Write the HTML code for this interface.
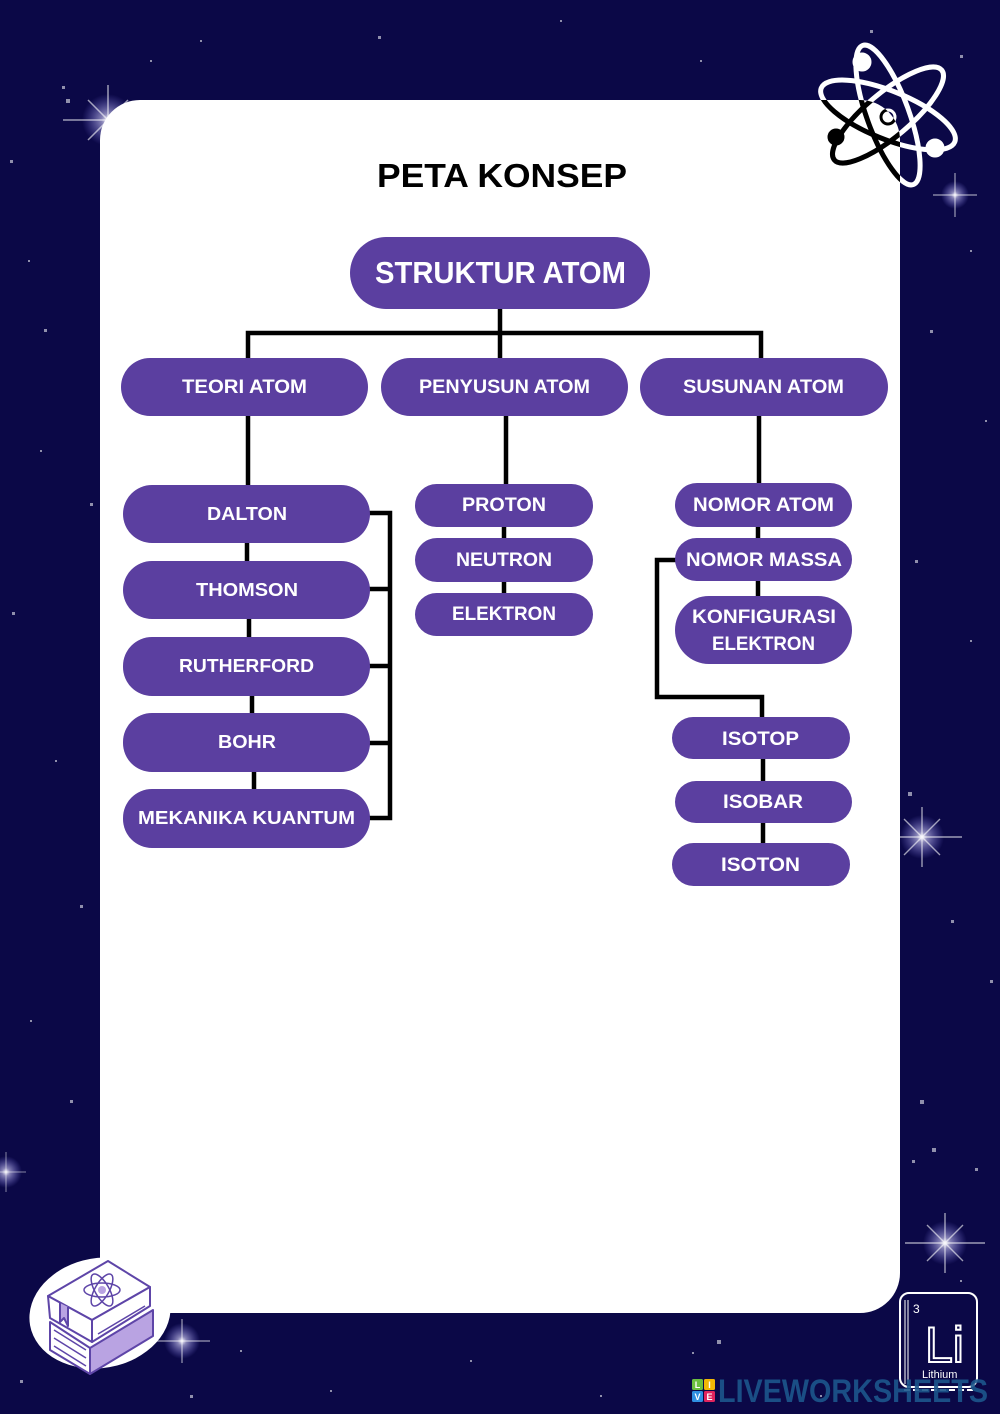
<!DOCTYPE html>
<html><head><meta charset="utf-8"><style>
html,body{margin:0;padding:0;background:#0b0847;}
svg{display:block;}
</style></head><body>
<svg width="1000" height="1414" viewBox="0 0 1000 1414" xmlns="http://www.w3.org/2000/svg">
<defs>
<radialGradient id="glow" cx="50%" cy="50%" r="50%">
<stop offset="0" stop-color="#ffffff" stop-opacity="1"/>
<stop offset="0.25" stop-color="#d8d4ff" stop-opacity="0.6"/>
<stop offset="1" stop-color="#8b86ff" stop-opacity="0"/>
</radialGradient>
<clipPath id="card"><rect x="100" y="100" width="800" height="1213" rx="40"/></clipPath>
</defs>
<rect width="1000" height="1414" fill="#0b0847"/>

<!-- dots -->
<g fill="#ffffff" opacity="0.55">
<rect x="378" y="36" width="3" height="3"/><rect x="66" y="99" width="4" height="4"/><rect x="62" y="86" width="3" height="3"/>
<rect x="44" y="329" width="3" height="3"/><rect x="90" y="503" width="3" height="3"/><rect x="28" y="260" width="2" height="2"/>
<rect x="12" y="612" width="3" height="3"/><rect x="55" y="760" width="2" height="2"/><rect x="80" y="905" width="3" height="3"/>
<rect x="30" y="1020" width="2" height="2"/><rect x="70" y="1100" width="3" height="3"/><rect x="20" y="1380" width="3" height="3"/>
<rect x="190" y="1395" width="3" height="3"/><rect x="240" y="1350" width="2" height="2"/><rect x="330" y="1390" width="2" height="2"/>
<rect x="470" y="1360" width="2" height="2"/><rect x="600" y="1395" width="2" height="2"/><rect x="717" y="1340" width="4" height="4"/>
<rect x="692" y="1352" width="2" height="2"/><rect x="908" y="792" width="4" height="4"/><rect x="951" y="920" width="3" height="3"/>
<rect x="990" y="980" width="3" height="3"/><rect x="920" y="1100" width="4" height="4"/><rect x="932" y="1148" width="4" height="4"/>
<rect x="975" y="1168" width="3" height="3"/><rect x="912" y="1160" width="3" height="3"/><rect x="960" y="55" width="3" height="3"/>
<rect x="970" y="250" width="2" height="2"/><rect x="930" y="330" width="3" height="3"/><rect x="985" y="420" width="2" height="2"/>
<rect x="915" y="560" width="3" height="3"/><rect x="970" y="640" width="2" height="2"/><rect x="200" y="40" width="2" height="2"/>
<rect x="560" y="20" width="2" height="2"/><rect x="700" y="60" width="2" height="2"/><rect x="870" y="30" width="3" height="3"/>
<rect x="150" y="60" width="2" height="2"/><rect x="10" y="160" width="3" height="3"/><rect x="40" y="450" width="2" height="2"/>
<rect x="960" y="1280" width="2" height="2"/><rect x="820" y="1395" width="2" height="2"/>
</g>

<!-- sparkles -->
<g>
<g transform="translate(108,120)"><circle r="26" fill="url(#glow)"/><path d="M-45 0H45M0-35V35M-20-20L20 20M-20 20L20-20" stroke="#fff" stroke-width="1.5" opacity="0.6"/></g>
<g transform="translate(955,195)"><circle r="14" fill="url(#glow)"/><path d="M-22 0H22M0-22V22" stroke="#fff" stroke-width="1.2" opacity="0.6"/></g>
<g transform="translate(922,837)"><circle r="22" fill="url(#glow)"/><path d="M-40 0H40M0-30V30M-18-18L18 18M-18 18L18-18" stroke="#fff" stroke-width="1.4" opacity="0.6"/></g>
<g transform="translate(945,1243)"><circle r="22" fill="url(#glow)"/><path d="M-40 0H40M0-30V30M-18-18L18 18M-18 18L18-18" stroke="#fff" stroke-width="1.4" opacity="0.6"/></g>
<g transform="translate(182,1341)"><circle r="18" fill="url(#glow)"/><path d="M-28 0H28M0-22V22" stroke="#fff" stroke-width="1.2" opacity="0.6"/></g>
<g transform="translate(6,1172)"><circle r="16" fill="url(#glow)"/><path d="M-20 0H20M0-20V20" stroke="#fff" stroke-width="1" opacity="0.5"/></g>
</g>

<!-- card -->
<rect x="100" y="100" width="800" height="1213" rx="40" fill="#ffffff"/>

<!-- title -->
<text x="377" y="187" font-family="Liberation Sans, sans-serif" font-weight="bold" font-size="33" fill="#000" textLength="250" lengthAdjust="spacingAndGlyphs">PETA KONSEP</text>

<!-- connectors -->
<g stroke="#000" stroke-width="4.5" fill="none" stroke-linecap="square">
<path d="M500 309V333M248 358V333H761V358M500 333V358"/>
<path d="M248 416V485M247 543V561M249 619V637M252 696V713M254 772V789"/>
<path d="M370 513H390V818H370M370 589H390M370 666H390M370 743H390"/>
<path d="M506 416V484M504 527V538M504 582V593"/>
<path d="M759 416V483M758 527V538M758 581V596"/>
<path d="M675 560H657V697H762V717M763 759V781M763 823V843"/>
</g>

<!-- nodes -->
<g fill="#5b3fa0">
<rect x="350" y="237" width="300" height="72" rx="36"/>
<rect x="121" y="358" width="247" height="58" rx="29"/>
<rect x="381" y="358" width="247" height="58" rx="29"/>
<rect x="640" y="358" width="248" height="58" rx="29"/>
<rect x="123" y="485" width="247" height="58" rx="29"/>
<rect x="123" y="561" width="247" height="58" rx="29"/>
<rect x="123" y="637" width="247" height="59" rx="29"/>
<rect x="123" y="713" width="247" height="59" rx="29"/>
<rect x="123" y="789" width="247" height="59" rx="29"/>
<rect x="415" y="484" width="178" height="43" rx="21.5"/>
<rect x="415" y="538" width="178" height="44" rx="22"/>
<rect x="415" y="593" width="178" height="43" rx="21.5"/>
<rect x="675" y="483" width="177" height="44" rx="22"/>
<rect x="675" y="538" width="177" height="43" rx="21.5"/>
<rect x="675" y="596" width="177" height="68" rx="34"/>
<rect x="672" y="717" width="178" height="42" rx="21"/>
<rect x="675" y="781" width="177" height="42" rx="21"/>
<rect x="672" y="843" width="178" height="43" rx="21.5"/>
</g>

<g font-family="Liberation Sans, sans-serif" font-weight="bold" fill="#ffffff" lengthAdjust="spacingAndGlyphs">
<text x="375" y="283" font-size="31" textLength="251" lengthAdjust="spacingAndGlyphs">STRUKTUR ATOM</text>
<text x="182" y="393" font-size="19" textLength="125" lengthAdjust="spacingAndGlyphs">TEORI ATOM</text>
<text x="419" y="393" font-size="19" textLength="171" lengthAdjust="spacingAndGlyphs">PENYUSUN ATOM</text>
<text x="683" y="393" font-size="19" textLength="161" lengthAdjust="spacingAndGlyphs">SUSUNAN ATOM</text>
<text x="207" y="520" font-size="18" textLength="80" lengthAdjust="spacingAndGlyphs">DALTON</text>
<text x="196" y="596" font-size="18" textLength="102" lengthAdjust="spacingAndGlyphs">THOMSON</text>
<text x="179" y="672" font-size="18" textLength="135" lengthAdjust="spacingAndGlyphs">RUTHERFORD</text>
<text x="218" y="748" font-size="18" textLength="58" lengthAdjust="spacingAndGlyphs">BOHR</text>
<text x="138" y="824" font-size="18" textLength="217" lengthAdjust="spacingAndGlyphs">MEKANIKA KUANTUM</text>
<text x="462" y="511" font-size="19" textLength="84" lengthAdjust="spacingAndGlyphs">PROTON</text>
<text x="456" y="566" font-size="19" textLength="96" lengthAdjust="spacingAndGlyphs">NEUTRON</text>
<text x="452" y="620" font-size="19" textLength="104" lengthAdjust="spacingAndGlyphs">ELEKTRON</text>
<text x="693" y="511" font-size="19" textLength="141" lengthAdjust="spacingAndGlyphs">NOMOR ATOM</text>
<text x="686" y="566" font-size="19" textLength="156" lengthAdjust="spacingAndGlyphs">NOMOR MASSA</text>
<text x="692" y="623" font-size="19" textLength="144" lengthAdjust="spacingAndGlyphs">KONFIGURASI</text>
<text x="712" y="650" font-size="19" textLength="103" lengthAdjust="spacingAndGlyphs">ELEKTRON</text>
<text x="722" y="745" font-size="19" textLength="77" lengthAdjust="spacingAndGlyphs">ISOTOP</text>
<text x="723" y="808" font-size="19" textLength="80" lengthAdjust="spacingAndGlyphs">ISOBAR</text>
<text x="721" y="871" font-size="19" textLength="79" lengthAdjust="spacingAndGlyphs">ISOTON</text>
</g>

<!-- atom icon top right -->
<g id="atomw" fill="none" stroke="#ffffff" stroke-width="5">
<ellipse cx="888" cy="115" rx="72" ry="24" transform="rotate(22 888 115)"/>
<ellipse cx="888" cy="115" rx="74" ry="21" transform="rotate(70 888 115)"/>
<ellipse cx="888" cy="115" rx="70" ry="22" transform="rotate(-40 888 115)"/>
<circle cx="888" cy="117" r="7" stroke-width="3"/>
<circle cx="862" cy="62" r="7" fill="#fff"/>
<circle cx="935" cy="148" r="7" fill="#fff"/>
<circle cx="836" cy="137" r="6" fill="#fff"/>
</g>
<g clip-path="url(#card)" fill="none" stroke="#000000" stroke-width="5">
<ellipse cx="888" cy="115" rx="72" ry="24" transform="rotate(22 888 115)"/>
<ellipse cx="888" cy="115" rx="74" ry="21" transform="rotate(70 888 115)"/>
<ellipse cx="888" cy="115" rx="70" ry="22" transform="rotate(-40 888 115)"/>
<circle cx="888" cy="117" r="7" stroke-width="3"/>
<circle cx="862" cy="62" r="7" fill="#000"/>
<circle cx="935" cy="148" r="7" fill="#000"/>
<circle cx="836" cy="137" r="6" fill="#000"/>
</g>

<!-- books icon -->
<ellipse cx="100" cy="1313" rx="71" ry="55" transform="rotate(-10 100 1313)" fill="#ffffff"/>
<g stroke="#5e45a8" stroke-width="2" stroke-linejoin="round" fill="#ffffff">
<path d="M90 1348L153 1310V1336L90 1374Z" fill="#b9a3e2"/>
<path d="M50 1322L90 1348V1374L50 1350Z"/>
<path d="M48 1296L108 1261L150 1287L92 1320Z"/>
<path d="M48 1296L92 1320V1342L50 1318Z"/>
<path d="M92 1320L150 1287V1306L92 1342Z"/>
<path d="M60 1303V1322L64 1318L68 1326V1307" fill="#b9a3e2"/>
<path d="M98 1334L145 1306M54 1330L86 1350M54 1338L86 1358M54 1346L86 1366" fill="none" stroke-width="1.5"/>
<ellipse cx="102" cy="1290" rx="18" ry="7" fill="none" stroke-width="1.5"/>
<ellipse cx="102" cy="1290" rx="18" ry="7" transform="rotate(60 102 1290)" fill="none" stroke-width="1.5"/>
<ellipse cx="102" cy="1290" rx="18" ry="7" transform="rotate(-60 102 1290)" fill="none" stroke-width="1.5"/>
<circle cx="102" cy="1290" r="4" fill="#b9a3e2" stroke="none"/>
</g>

<!-- Li element -->
<g stroke="#ffffff" fill="none">
<rect x="900" y="1293" width="77" height="94" rx="9" stroke-width="2"/>
<path d="M905 1300V1384M908 1300V1384" stroke-width="1"/>
<path d="M904 1390H975" stroke-width="2" stroke-dasharray="6 3"/>
</g>
<text x="913" y="1313" font-family="Liberation Sans, sans-serif" font-size="12" fill="#ffffff">3</text>
<text x="925" y="1362" font-family="Liberation Sans, sans-serif" font-size="50" fill="#0b0847" stroke="#ffffff" stroke-width="2">Li</text>
<text x="922" y="1378" font-family="Liberation Sans, sans-serif" font-size="11" fill="#ffffff">Lithium</text>

<!-- watermark -->
<g font-family="Liberation Sans, sans-serif" font-weight="bold" font-size="9" fill="#fff" text-anchor="middle">
<rect x="692" y="1379" width="11" height="11" rx="1.5" fill="#6cbf3f"/><text x="697.5" y="1388">L</text>
<rect x="704" y="1379" width="11" height="11" rx="1.5" fill="#f2b705"/><text x="709.5" y="1388">I</text>
<rect x="692" y="1391" width="11" height="11" rx="1.5" fill="#2f8fe2"/><text x="697.5" y="1400">V</text>
<rect x="704" y="1391" width="11" height="11" rx="1.5" fill="#e2245e"/><text x="709.5" y="1400">E</text>
</g>
<text x="718" y="1402" font-family="Liberation Sans, sans-serif" font-weight="bold" font-size="32" fill="#1c578c" fill-opacity="0.9" textLength="270" lengthAdjust="spacingAndGlyphs">LIVEWORKSHEETS</text>
</svg>
</body></html>
